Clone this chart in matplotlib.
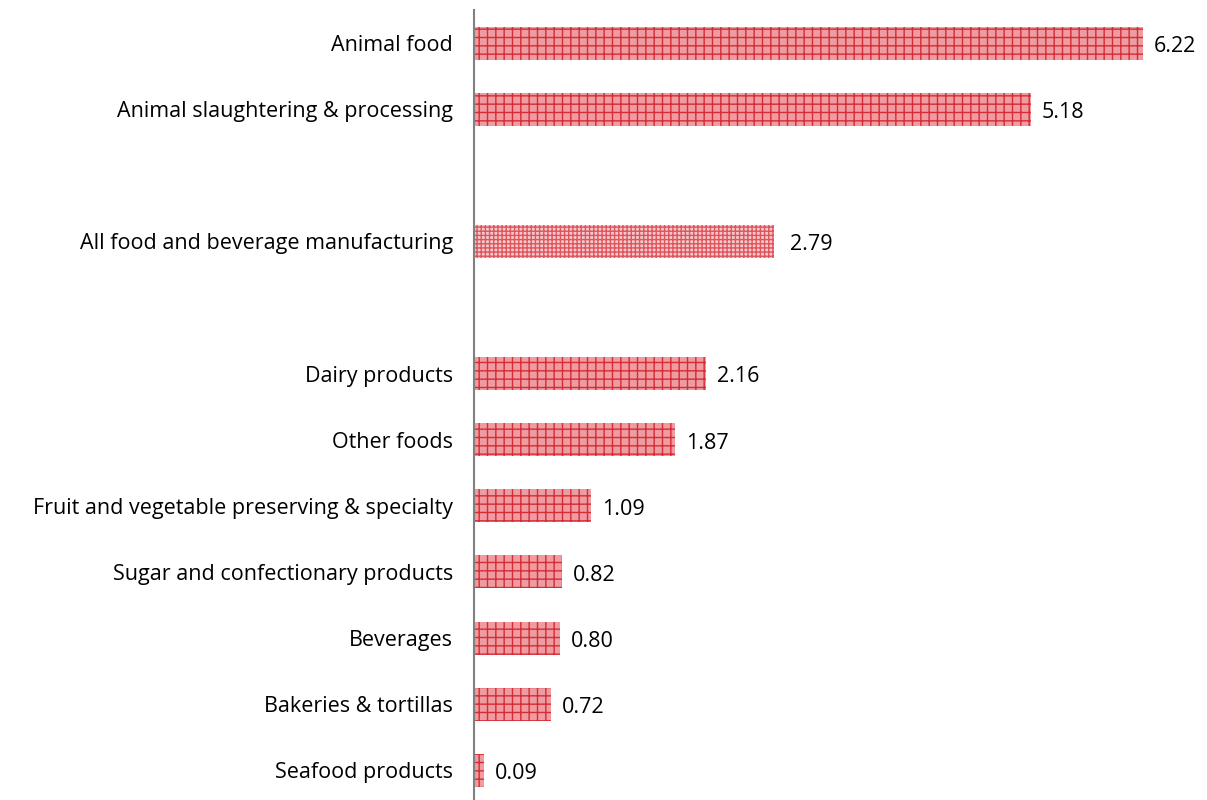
import matplotlib
matplotlib.use("Agg")
from matplotlib import pyplot as plt

# Data, top to bottom (None = empty gap row)
categories = ["Animal food", "Animal slaughtering & processing", None,
              "All food and beverage manufacturing", None,
              "Dairy products", "Other foods",
              "Fruit and vegetable preserving & specialty",
              "Sugar and confectionary products", "Beverages",
              "Bakeries & tortillas", "Seafood products"]
values = [6.22, 5.18, None, 2.79, None, 2.16, 1.87, 1.09, 0.82, 0.80, 0.72, 0.09]
highlight = "All food and beverage manufacturing"

plt.rcParams['font.family'] = ['Open Sans', 'DejaVu Sans']
plt.rcParams['hatch.linewidth'] = 1.0

fig = plt.figure(figsize=(12.07, 8), dpi=100)
ax = fig.add_axes([474 / 1207, 0, 1 - 474 / 1207, 790 / 800])

positions, labels = [], []
for i, (cat, val) in enumerate(zip(categories, values)):
    if cat is None:
        continue
    positions.append(i)
    labels.append(cat)
    if cat == highlight:
        ax.barh(i, val, height=0.5, facecolor='#f6c9cc', edgecolor='#e0545c',
                hatch='++++', linewidth=0)
        ax.text(val + 0.15, i + 0.05, f"{val:.2f}", va='center', ha='left', fontsize=15.5)
    else:
        ax.barh(i, val, height=0.5, facecolor='#ee9ca1', edgecolor='#d62c36',
                hatch='++', linewidth=0)
        ax.text(val + 0.1, i + 0.05, f"{val:.2f}", va='center', ha='left', fontsize=15.5)

ax.set_yticks(positions)
ax.set_yticklabels(labels, fontsize=15.5)
ax.tick_params(axis='y', length=0, pad=15)
ax.set_xticks([])
ax.set_xlim(0, 6.815)
ax.set_ylim(11.45, -0.5)

for side in ['top', 'right', 'bottom']:
    ax.spines[side].set_visible(False)
ax.spines['left'].set_color('#808080')
ax.spines['left'].set_linewidth(1.5)

fig.savefig("out.png", dpi=100)
